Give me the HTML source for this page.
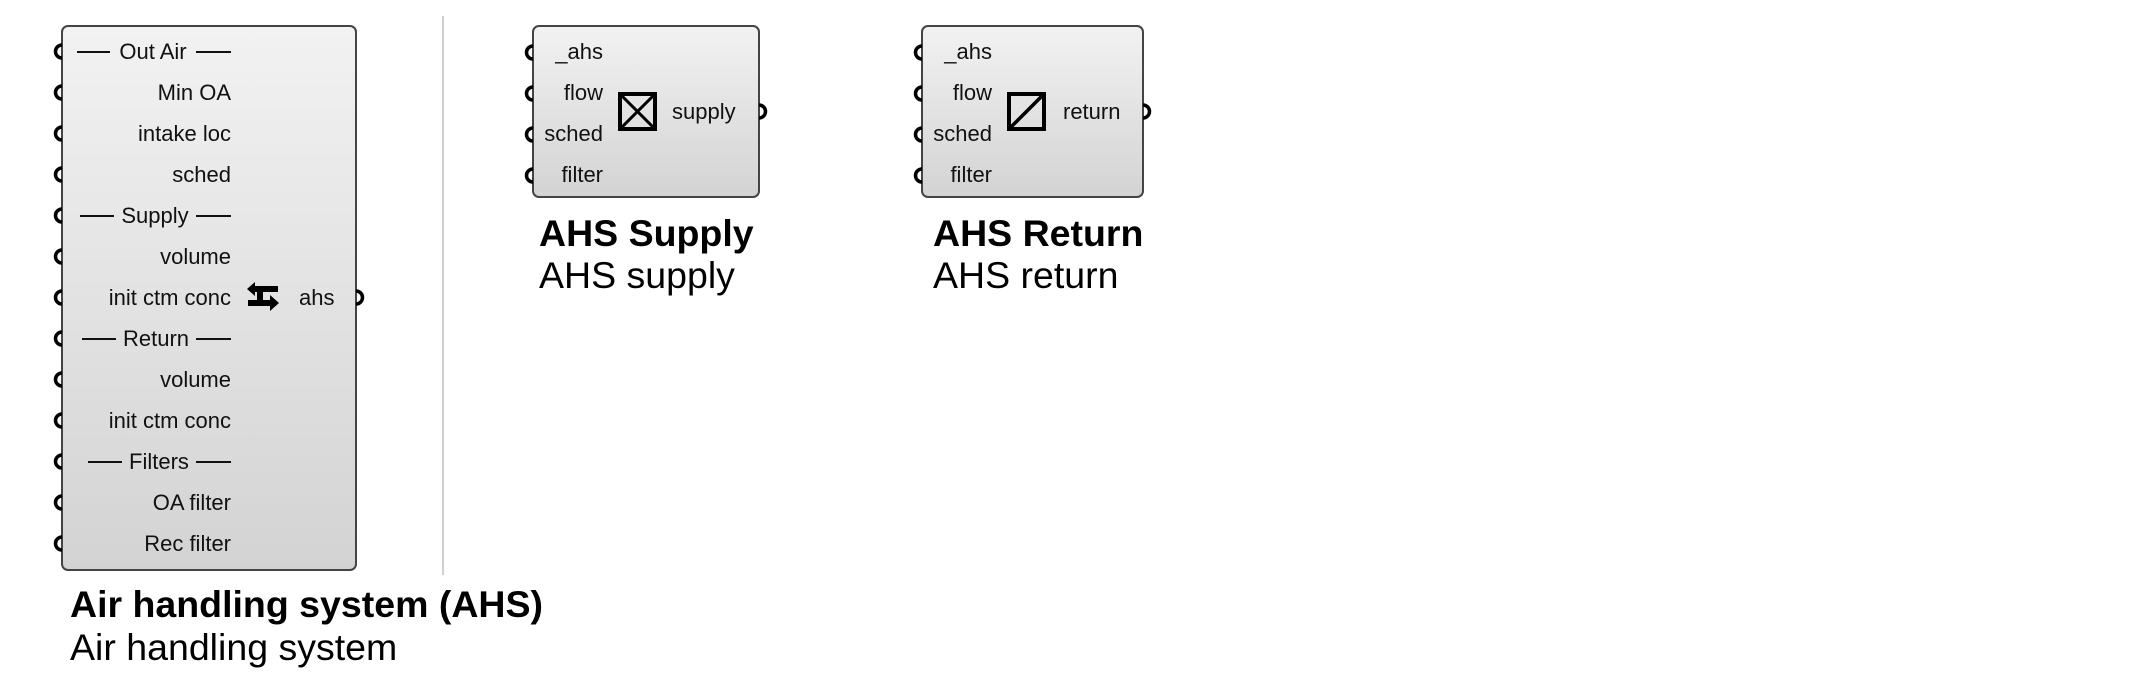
<!DOCTYPE html>
<html><head><meta charset="utf-8"><style>
html,body{margin:0;padding:0;background:#fff;}
svg{display:block;}
.p{font-family:"Liberation Sans",sans-serif;font-size:22px;fill:#111;}
.t{font-family:"Liberation Sans",sans-serif;font-size:37.5px;fill:#000;}
</style></head><body>
<svg width="2134" height="681" viewBox="0 0 2134 681" xmlns="http://www.w3.org/2000/svg">
<defs>
<linearGradient id="g" x1="0" y1="0" x2="0" y2="1">
<stop offset="0" stop-color="#f2f2f2"/><stop offset="1" stop-color="#d3d3d3"/>
</linearGradient>
</defs>
<line x1="443" y1="16" x2="443" y2="575" stroke="#cfcfcf" stroke-width="2"/>

<!-- main box -->
<rect x="62" y="26" width="294" height="544" rx="6" fill="url(#g)" stroke="#444" stroke-width="2"/>
<g fill="none" stroke="#000" stroke-width="3.5">
<path d="M62 45 a6.5 6.5 0 0 0 0 13"/><path d="M62 86 a6.5 6.5 0 0 0 0 13"/><path d="M62 127 a6.5 6.5 0 0 0 0 13"/>
<path d="M62 168 a6.5 6.5 0 0 0 0 13"/><path d="M62 209 a6.5 6.5 0 0 0 0 13"/><path d="M62 250 a6.5 6.5 0 0 0 0 13"/>
<path d="M62 291 a6.5 6.5 0 0 0 0 13"/><path d="M62 332 a6.5 6.5 0 0 0 0 13"/><path d="M62 373 a6.5 6.5 0 0 0 0 13"/>
<path d="M62 414 a6.5 6.5 0 0 0 0 13"/><path d="M62 455 a6.5 6.5 0 0 0 0 13"/><path d="M62 496 a6.5 6.5 0 0 0 0 13"/>
<path d="M62 537 a6.5 6.5 0 0 0 0 13"/>
<path d="M356 291 a6.5 6.5 0 0 1 0 13"/>
</g>
<g stroke="#111" stroke-width="2">
<line x1="77" y1="52" x2="110" y2="52"/><line x1="196" y1="52" x2="231" y2="52"/>
<line x1="80" y1="216" x2="114" y2="216"/><line x1="196" y1="216" x2="231" y2="216"/>
<line x1="82" y1="339" x2="116" y2="339"/><line x1="196" y1="339" x2="231" y2="339"/>
<line x1="88" y1="462" x2="122" y2="462"/><line x1="196" y1="462" x2="231" y2="462"/>
</g>
<g class="p" text-anchor="middle">
<text x="153" y="59">Out Air</text>
<text x="155" y="223">Supply</text>
<text x="156" y="346">Return</text>
<text x="159" y="469">Filters</text>
</g>
<g class="p" text-anchor="end">
<text x="231" y="100">Min OA</text>
<text x="231" y="141">intake loc</text>
<text x="231" y="182">sched</text>
<text x="231" y="264">volume</text>
<text x="231" y="305">init ctm conc</text>
<text x="231" y="387">volume</text>
<text x="231" y="428">init ctm conc</text>
<text x="231" y="510">OA filter</text>
<text x="231" y="551">Rec filter</text>
</g>
<text class="p" x="299" y="305">ahs</text>
<!-- main icon -->
<g fill="#000">
<polygon points="247,289 255,282 255,286 278,286 278,292 255,292 255,296"/>
<rect x="257" y="286" width="6" height="20"/>
<polygon points="248,300 270,300 270,295 279,303 270,311 270,306 248,306"/>
</g>
<text class="t" x="70" y="617" font-weight="bold">Air handling system (AHS)</text>
<text class="t" x="70" y="660">Air handling system</text>

<!-- supply -->
<rect x="533" y="26" width="226" height="171" rx="6" fill="url(#g)" stroke="#444" stroke-width="2"/>
<g fill="none" stroke="#000" stroke-width="3.5">
<path d="M533 46 a6.5 6.5 0 0 0 0 13"/><path d="M533 87 a6.5 6.5 0 0 0 0 13"/><path d="M533 128 a6.5 6.5 0 0 0 0 13"/><path d="M533 169 a6.5 6.5 0 0 0 0 13"/>
<path d="M759 105 a6.5 6.5 0 0 1 0 13"/>
</g>
<g class="p" text-anchor="end">
<text x="603" y="59">_ahs</text><text x="603" y="100">flow</text><text x="603" y="141">sched</text><text x="603" y="182">filter</text>
</g>
<g fill="none" stroke="#000" stroke-width="4">
<rect x="620" y="94" width="35" height="35"/>
<path d="M620 94 L655 129 M655 94 L620 129" stroke-width="3"/>
</g>
<text class="p" x="672" y="119">supply</text>
<text class="t" x="539" y="246" font-weight="bold">AHS Supply</text>
<text class="t" x="539" y="288">AHS supply</text>

<!-- return -->
<rect x="922" y="26" width="221" height="171" rx="6" fill="url(#g)" stroke="#444" stroke-width="2"/>
<g fill="none" stroke="#000" stroke-width="3.5">
<path d="M922 46 a6.5 6.5 0 0 0 0 13"/><path d="M922 87 a6.5 6.5 0 0 0 0 13"/><path d="M922 128 a6.5 6.5 0 0 0 0 13"/><path d="M922 169 a6.5 6.5 0 0 0 0 13"/>
<path d="M1143 105 a6.5 6.5 0 0 1 0 13"/>
</g>
<g class="p" text-anchor="end">
<text x="992" y="59">_ahs</text><text x="992" y="100">flow</text><text x="992" y="141">sched</text><text x="992" y="182">filter</text>
</g>
<g fill="none" stroke="#000" stroke-width="4">
<rect x="1009" y="94" width="35" height="35"/>
<path d="M1044 94 L1009 129" stroke-width="3.5"/>
</g>
<text class="p" x="1063" y="119">return</text>
<text class="t" x="933" y="246" font-weight="bold">AHS Return</text>
<text class="t" x="933" y="288">AHS return</text>
</svg>
</body></html>
